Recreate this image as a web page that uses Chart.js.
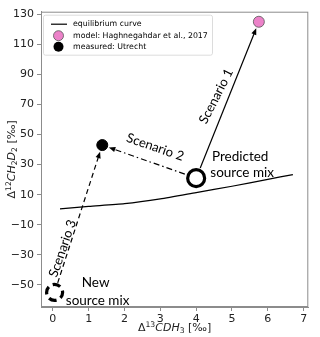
<!DOCTYPE html>
<html>
<head>
<meta charset="utf-8">
<script src="https://cdn.jsdelivr.net/npm/chart.js@4/dist/chart.umd.min.js"></script>
<style>
  html, body { margin: 0; padding: 0; background: #fff; }
  #wrap { width: 320px; height: 337px; }
</style>
</head>
<body>
<div id="wrap"><canvas id="clumped-chart"></canvas></div>
<script>
// equilibrium curve
const eqX = [0.2, 1, 2, 3, 4, 5, 6, 6.7];
const eqY = [0.6, 2.2, 4.0, 7.2, 11.4, 15.6, 20.2, 23.4];

// single points [Δ13CDH3, Δ12CH2D2]
const modelPt = [5.75, 125];
const measuredPt = [1.38, 43];
const predictedPt = [4.0, 21];
const newMixPt = [0.05, -55];

const xTicks = [0, 1, 2, 3, 4, 5, 6, 7];
const yTicks = [-50, -30, -10, 10, 30, 50, 70, 90, 110, 130];

const legendLabels = ['equilibrium curve', 'model: Haghnegahdar et al., 2017', 'measured: Utrecht'];
const scenarioLabels = ['Scenario 1', 'Scenario 2', 'Scenario 3'];

const PINK = '#ec82c9';
const tickFont = 'DejaVu Sans';
const noteFont = 'Lato';

function pt(p) { return { x: p[0], y: p[1] }; }

// rich text: parts = [[text, kind]] kind: n, i, sup, sub
function richWidth(ctx, parts, size, fam) {
    let w = 0;
    parts.forEach(([t, k]) => {
        let s = (k == 'sup' || k == 'sub') ? size * 0.7 : size;
        ctx.font = (k == 'i' ? 'italic ' : '') + s + 'px ' + fam;
        w += ctx.measureText(t).width;
    });
    return w;
}
function drawRich(ctx, parts, x, y, size, fam) {
    let w = richWidth(ctx, parts, size, fam);
    let cx = x - w / 2;
    ctx.textBaseline = 'alphabetic';
    ctx.textAlign = 'left';
    parts.forEach(([t, k]) => {
        let s = (k == 'sup' || k == 'sub') ? size * 0.7 : size;
        let dy = k == 'sup' ? -size * 0.38 : (k == 'sub' ? size * 0.22 : 0);
        ctx.font = (k == 'i' ? 'italic ' : '') + s + 'px ' + fam;
        ctx.fillText(t, cx, y + dy);
        cx += ctx.measureText(t).width;
    });
}

function arrow(ctx, x0, y0, x1, y1, startGap, endGap, dash) {
    let ang = Math.atan2(y1 - y0, x1 - x0);
    let sx = x0 + Math.cos(ang) * startGap, sy = y0 + Math.sin(ang) * startGap;
    let ex = x1 - Math.cos(ang) * endGap, ey = y1 - Math.sin(ang) * endGap;
    let head = 7;
    ctx.save();
    ctx.strokeStyle = '#000';
    ctx.fillStyle = '#000';
    ctx.lineWidth = 1.2;
    ctx.setLineDash(dash);
    ctx.beginPath();
    ctx.moveTo(sx, sy);
    ctx.lineTo(ex - Math.cos(ang) * head * 0.8, ey - Math.sin(ang) * head * 0.8);
    ctx.stroke();
    ctx.setLineDash([]);
    ctx.beginPath();
    ctx.moveTo(ex, ey);
    ctx.lineTo(ex - Math.cos(ang - 0.38) * head, ey - Math.sin(ang - 0.38) * head);
    ctx.lineTo(ex - Math.cos(ang + 0.38) * head, ey - Math.sin(ang + 0.38) * head);
    ctx.closePath();
    ctx.fill();
    ctx.restore();
}

function label(ctx, txt, x, y, rot, size) {
    ctx.save();
    ctx.translate(x, y);
    ctx.rotate(rot * Math.PI / 180);
    ctx.font = size + 'px ' + noteFont;
    ctx.fillStyle = '#000';
    ctx.textAlign = 'center';
    ctx.textBaseline = 'middle';
    ctx.fillText(txt, 0, 0);
    ctx.restore();
}

const extras = {
    id: 'extras',
    afterDatasetsDraw(chart) {
        const ctx = chart.ctx;
        const xs = chart.scales.x, ys = chart.scales.y;
        const a = chart.chartArea;
        const px = p => [xs.getPixelForValue(p[0]), ys.getPixelForValue(p[1])];
        const pred = px(predictedPt), meas = px(measuredPt), mod = px(modelPt), nm = px(newMixPt);

        // frame
        ctx.save();
        ctx.strokeStyle = '#8c8c8c';
        ctx.lineWidth = 1;
        ctx.strokeRect(a.left + 0.5, a.top + 0.5, a.right - a.left - 1, a.bottom - a.top - 1);
        ctx.restore();

        // arrows
        arrow(ctx, pred[0], pred[1], mod[0], mod[1], 11, 7, []);
        arrow(ctx, pred[0], pred[1], meas[0], meas[1], 12, 7, [6, 3, 1.5, 3]);
        arrow(ctx, nm[0], nm[1], meas[0], meas[1], 10, 7, [5, 3.5]);

        // new source mix (dashed ring)
        ctx.save();
        ctx.strokeStyle = '#000';
        ctx.lineWidth = 3.2;
        ctx.setLineDash([8, 4.5]);
        ctx.lineDashOffset = 2;
        ctx.beginPath();
        ctx.arc(nm[0], nm[1], 8, 0, Math.PI * 2);
        ctx.stroke();
        ctx.restore();

        // annotations
        label(ctx, scenarioLabels[0], pred[0] + 20, pred[1] - 82, -63, 13);
        label(ctx, scenarioLabels[1], pred[0] - 41, pred[1] - 31, 19, 13);
        label(ctx, scenarioLabels[2], nm[0] + 8, nm[1] - 44, -71, 13);
        label(ctx, 'Predicted', pred[0] + 44, pred[1] - 22, 0, 13.5);
        label(ctx, 'source mix', pred[0] + 46, pred[1] - 6, 0, 13.5);
        label(ctx, 'New', nm[0] + 41, nm[1] - 10, 0, 13.5);
        label(ctx, 'source mix', nm[0] + 43, nm[1] + 8, 0, 13.5);

        // legend
        ctx.save();
        const lx = a.left + 2, ly = a.top + 3, lw = 169, lh = 40;
        ctx.fillStyle = 'rgba(255,255,255,0.85)';
        ctx.strokeStyle = '#dcdcdc';
        ctx.lineWidth = 1;
        ctx.beginPath();
        ctx.roundRect(lx + 0.5, ly + 0.5, lw, lh, 2);
        ctx.fill();
        ctx.stroke();
        ctx.font = '10px ' + tickFont;
        let fs = 10 * 135 / ctx.measureText(legendLabels[1]).width;
        ctx.font = fs + 'px ' + tickFont;
        ctx.fillStyle = '#000';
        ctx.textBaseline = 'middle';
        ctx.textAlign = 'left';
        const rows = [ly + 9.5, ly + 21, ly + 32];
        legendLabels.forEach((t, i) => ctx.fillText(t, lx + 30, rows[i]));
        ctx.strokeStyle = '#000';
        ctx.lineWidth = 1.2;
        ctx.beginPath();
        ctx.moveTo(lx + 8, rows[0]);
        ctx.lineTo(lx + 24, rows[0]);
        ctx.stroke();
        ctx.beginPath();
        ctx.arc(lx + 15.5, rows[1], 5, 0, Math.PI * 2);
        ctx.fillStyle = PINK;
        ctx.fill();
        ctx.strokeStyle = '#555';
        ctx.lineWidth = 0.8;
        ctx.stroke();
        ctx.beginPath();
        ctx.arc(lx + 15.5, rows[2], 5, 0, Math.PI * 2);
        ctx.fillStyle = '#000';
        ctx.fill();
        ctx.restore();

        // axis titles
        ctx.save();
        ctx.fillStyle = '#222';
        drawRich(ctx, [['Δ', 'n'], ['13', 'sup'], ['CDH', 'i'], ['3', 'sub'], [' [‰]', 'n']],
            (a.left + a.right) / 2, chart.height - 6, 11, tickFont);
        ctx.translate(15, (a.top + a.bottom) / 2);
        ctx.rotate(-Math.PI / 2);
        drawRich(ctx, [['Δ', 'n'], ['12', 'sup'], ['CH', 'i'], ['2', 'sub'], ['D', 'i'], ['2', 'sub'], [' [‰]', 'n']],
            0, 0, 11, tickFont);
        ctx.restore();
    }
};

const data = {
    datasets: [{
        label: legendLabels[0],
        data: eqX.map((x, i) => ({ x: x, y: eqY[i] })),
        showLine: true,
        borderColor: '#000',
        borderWidth: 1.2,
        pointRadius: 0,
        tension: 0.2
    }, {
        label: legendLabels[1],
        data: [pt(modelPt)],
        pointRadius: 5.5,
        backgroundColor: PINK,
        borderColor: '#555',
        borderWidth: 0.8
    }, {
        label: legendLabels[2],
        data: [pt(measuredPt)],
        pointRadius: 5.5,
        backgroundColor: '#000',
        borderColor: '#000'
    }, {
        label: 'predicted source mix',
        data: [pt(predictedPt)],
        pointRadius: 8.5,
        backgroundColor: 'rgba(255,255,255,1)',
        borderColor: '#000',
        borderWidth: 3.2
    }]
};

const config = {
    type: 'scatter',
    data: data,
    options: {
        responsive: true,
        maintainAspectRatio: false,
        animation: false,
        layout: { padding: { top: 4, right: 4, left: 0, bottom: 0 } },
        plugins: {
            legend: { display: false },
            tooltip: { enabled: false }
        },
        scales: {
            x: {
                type: 'linear',
                min: -0.33,
                max: 7.13,
                afterBuildTicks: s => { s.ticks = xTicks.map(v => ({ value: v })); },
                afterFit: s => { s.height = 30; },
                ticks: { color: '#222', font: { family: tickFont, size: 11 }, padding: 2, includeBounds: false },
                grid: { drawOnChartArea: false, tickLength: 4, color: '#8c8c8c' },
                border: { color: '#8c8c8c' }
            },
            y: {
                type: 'linear',
                min: -64.7,
                max: 131.7,
                afterBuildTicks: s => { s.ticks = yTicks.map(v => ({ value: v })); },
                afterFit: s => { s.width = 41; },
                ticks: {
                    color: '#222', font: { family: tickFont, size: 11 }, padding: 3, includeBounds: false,
                    callback: v => String(v).replace('-', '\u2212')
                },
                grid: { drawOnChartArea: false, tickLength: 4, color: '#8c8c8c' },
                border: { color: '#8c8c8c' }
            }
        }
    },
    plugins: [extras]
};

let obj = document.getElementById('clumped-chart');
let clumped = new Chart(obj, config);
</script>
</body>
</html>
